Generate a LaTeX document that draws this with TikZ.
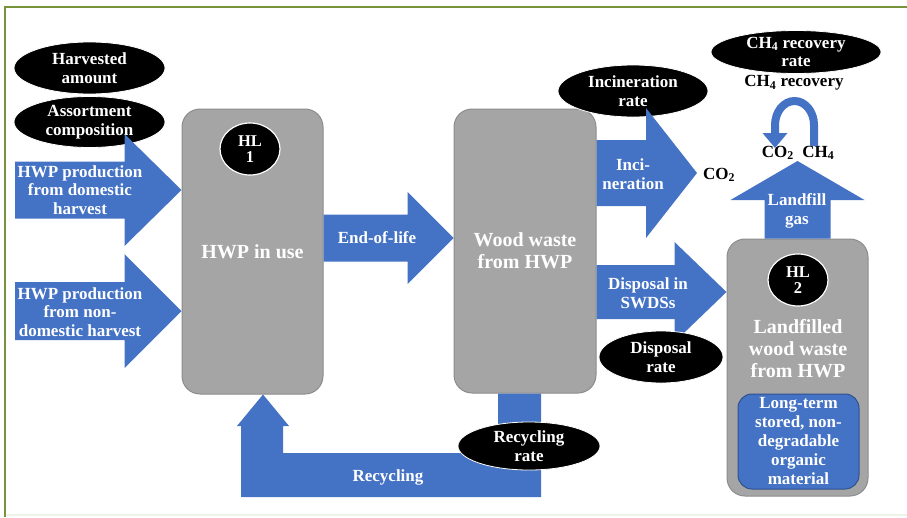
\documentclass[tikz,border=0pt]{standalone}
\usepackage{fontspec}
\setmainfont{Liberation Serif}
\usepackage{xcolor}
\definecolor{flowblue}{HTML}{4472C4}
\definecolor{flowblued}{HTML}{2F528F}
\definecolor{boxgray}{HTML}{A5A5A5}
\definecolor{boxgrayd}{HTML}{8C8C8C}
\definecolor{framegreen}{HTML}{77933C}
\usepackage{tikz}
\usetikzlibrary{positioning, arrows.meta, shapes.geometric, calc}

\newcommand{\lblfont}{\fontsize{17}{18.5}\selectfont\bfseries}
\newcommand{\boxfont}{\fontsize{20}{22}\selectfont\bfseries}
\newcommand{\hlfont}{\fontsize{16.5}{16}\selectfont\bfseries}

% block arrow to the right: start, tip, head length, shaft half, head half
\newcommand{\rarrow}[5]{%
  \fill[flowblue] ($(#1)+(0,-#4)$) -- ($(#2)+(-#3,-#4)$) -- ($(#2)+(-#3,-#5)$) -- (#2)
    -- ($(#2)+(-#3,#5)$) -- ($(#2)+(-#3,#4)$) -- ($(#1)+(0,#4)$) -- cycle;}
% block arrow upwards: start, tip, head length, shaft half, head half
\newcommand{\uarrow}[5]{%
  \fill[flowblue] ($(#1)+(-#4,0)$) -- ($(#2)+(-#4,#3)$) -- ($(#2)+(-#5,#3)$) -- (#2)
    -- ($(#2)+(#5,#3)$) -- ($(#2)+(#4,#3)$) -- ($(#1)+(#4,0)$) -- cycle;}

\begin{document}
\begin{tikzpicture}[
  x=1pt, y=-1pt,
  hwpbox/.style={draw=boxgrayd, fill=boxgray, line width=1pt, rounded corners=18pt, inner sep=0pt, text=white, font=\boxfont, align=center},
  param/.style={ellipse, fill=black, draw=white, line width=0.8pt, inner xsep=0pt, inner ysep=-3pt, text=white, font=\lblfont, align=center},
  hl/.style={ellipse, fill=black, draw=white, line width=1.2pt, minimum width=60pt, minimum height=52pt, inner sep=0pt, text=white, font=\hlfont, align=center},
  flowtxt/.style={text=white, font=\lblfont, align=center},
  gastxt/.style={text=black, font=\lblfont, align=center, inner sep=0pt},
]
\useasboundingbox (0,0) rectangle (907,517);

% frame
\draw[framegreen, line width=2pt] (5,517) -- (5,7) -- (907,7);
\draw[framegreen!12, line width=2pt] (6,515) -- (907,515);

% pools
\node[hwpbox, minimum width=141pt, minimum height=285pt] (inuse) at (252.5,251.5) {HWP in use};
\node[hwpbox, minimum width=142pt, minimum height=284pt] (waste) at (525,251) {Wood waste\\from HWP};
\node[hwpbox, minimum width=141pt, minimum height=257pt] (landfill) at (797.5,367.5) {};

% parameters behind the arrows
\node[param, minimum width=151pt, minimum height=52pt] (harv) at (89.5,68) {Harvested\\amount};
\node[param, minimum width=151pt, minimum height=51pt] (assort) at (89.5,122) {Assortment\\composition};
\node[param, minimum width=150pt, minimum height=52pt] (incrate) at (633,91) {Incineration\\rate};
\node[param, minimum width=170pt, minimum height=43pt, inner ysep=-5pt] (ch4rate) at (796,52) {CH\textsubscript{4} recovery\\rate};

% flows
\coordinate (dom) at (15,190);
\coordinate (nondom) at (15,311);
\coordinate (eol) at (0,238);
\coordinate (inc) at (0,173);
\coordinate (inctip) at (697,173);
\coordinate (disp) at (0,292);
\coordinate (gastip) at (797.5,161);
\rarrow{dom}{inuse.west |- dom}{57}{28.5}{56}
\rarrow{nondom}{inuse.west |- nondom}{57}{29}{57}
\rarrow{inuse.east |- eol}{waste.west |- eol}{46}{23.5}{46}
\rarrow{waste.east |- inc}{inctip}{51}{33}{65}
\rarrow{waste.east |- disp}{landfill.west |- disp}{52}{27}{50}
\uarrow{landfill.north}{gastip}{39}{33}{67}
% recycling back to use
\fill[flowblue] ($(waste.south)+(-27,0)$) -- ($(waste.south)+(16,0)$) -- (541,497) -- (241,497)
  -- (241,426) -- (237,426) -- ($(inuse.south)+(10.5,0)$) -- (289,426) -- (283,426)
  -- (283,453) -- (498,453) -- cycle;

\node[flowtxt] (domtxt) at (80,190) {HWP production\\from domestic\\harvest};
\node[flowtxt] (nondomtxt) at (80,312) {HWP production\\from non-\\domestic harvest};
\node[flowtxt] (eoltxt) at (377,238) {End-of-life};
\node[flowtxt] (inctxt) at (633,174) {Inci-\\neration};
\node[flowtxt] (disptxt) at (648,293) {Disposal in\\SWDSs};
\node[flowtxt] (gastxt) at (797,211) {Landfill\\gas};
\node[flowtxt] (rectxt) at (388,477) {Recycling};

% parameters on top
\node[param, minimum width=124pt, minimum height=52pt] (disprate) at (661,357) {Disposal\\rate};
\node[param, minimum width=142pt, minimum height=48pt] (recrate) at (529,446) {Recycling\\rate};

% half-lives and landfill content
\node[hl] (hl1) at (250,149) {HL\\1};
\node[hl] (hl2) at (798,280) {HL\\2};
\node[flowtxt, font=\boxfont] (lftxt) at (798,349) {Landfilled\\wood waste\\from HWP};
\node[draw=flowblued, fill=flowblue, line width=1pt, rounded corners=14pt, minimum width=121pt, minimum height=95pt, inner sep=0pt, text=white, font=\fontsize{17}{19}\selectfont\bfseries, align=center] (longterm) at (798.5,441.5) {Long-term\\stored, non-\\degradable\\organic\\material};

% gases
\node[gastxt] (co2) at (719,175) {CO\textsubscript{2}};
\node[gastxt] (gases) at (798,153) {CO\textsubscript{2}\ \ CH\textsubscript{4}};
\node[gastxt] (rec) at (794,83) {CH\textsubscript{4} recovery};
\coordinate (recfrom) at (814,146);
\coordinate (recto) at (775,148);
\draw[flowblue, line width=8pt, -{Triangle[width=24pt,length=15pt]}] (recfrom) -- ++(0,-21)
  arc[start angle=0, end angle=-180, x radius=19.5, y radius=24] -- (recto);
\end{tikzpicture}
\end{document}
